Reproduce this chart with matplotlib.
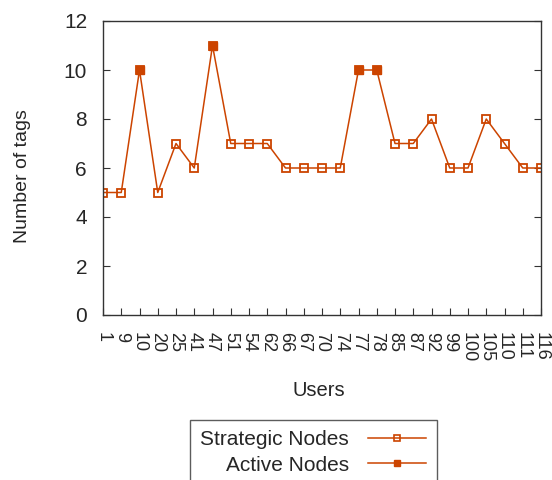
import matplotlib
matplotlib.use("Agg")
import matplotlib.pyplot as plt
from matplotlib.lines import Line2D

users = ["1", "9", "10", "20", "25", "41", "47", "51", "54", "62", "66", "67", "70",
         "74", "77", "78", "85", "87", "92", "99", "100", "105", "110", "111", "116"]
tags = [5, 5, 10, 5, 7, 6, 11, 7, 7, 7, 6, 6, 6, 6, 10, 10, 7, 7, 8, 6, 6, 8, 7, 6, 6]
active_users = ["10", "47", "77", "78"]
yticks = [0, 2, 4, 6, 8, 10, 12]

plt.rcParams['font.family'] = ['Liberation Sans', 'DejaVu Sans']
col = '#cc4400'
tcol = '#262626'

fig = plt.figure(figsize=(5.52, 4.8), dpi=100)
ax = fig.add_axes([103/552, 1-315/480, (541-103)/552, (315-21)/480])

x = list(range(len(users)))
ax.plot(x, tags, color=col, lw=1.1, marker='s', ms=5.5, mfc='none', mec=col, mew=1.3)
a_idx = [users.index(u) for u in active_users]
ax.plot(a_idx, [tags[i] for i in a_idx], ls='none', marker='s', ms=6, color=col)

ax.set_xlim(0, len(users) - 1)
ax.set_ylim(0, 12)
ax.set_yticks(yticks)
ax.set_xticks(x)
ax.set_xticklabels(users, rotation=-90, va='top', ha='center')
ax.tick_params(direction='in', length=5, color='#333333', labelcolor=tcol,
               right=True, top=False, width=0.8)
ax.tick_params(axis='x', pad=12, labelsize=13)
ax.tick_params(axis='y', pad=11.5, labelsize=15)
for s in ax.spines.values():
    s.set_color('#333333')
    s.set_linewidth(1.0)

fig.text(319/552, 1-390/480, "Users", fontsize=14.5, color=tcol, ha='center', va='center')
fig.text(23/552, 1-176/480, "Number of tags", fontsize=14, color=tcol, ha='center',
         va='center', rotation=90)

h1 = Line2D([], [], color=col, lw=1.1, marker='s', ms=4, mfc='none', mec=col, mew=1.2)
h2 = Line2D([], [], color=col, lw=1.1, marker='s', ms=4.5)
leg = fig.legend([h1, h2], ["Strategic Nodes", "Active Nodes"], loc='upper left',
                 bbox_to_anchor=(190/552, 1-420/480), markerfirst=False, fontsize=15,
                 frameon=True, fancybox=False, edgecolor='#333333', handlelength=2.8,
                 borderpad=0.5, labelspacing=0.3, handletextpad=0.9, borderaxespad=0)
for t in leg.get_texts():
    t.set_ha('right')
    t.set_color(tcol)
leg.get_frame().set_linewidth(1.0)

fig.savefig("out.png", dpi=100)
